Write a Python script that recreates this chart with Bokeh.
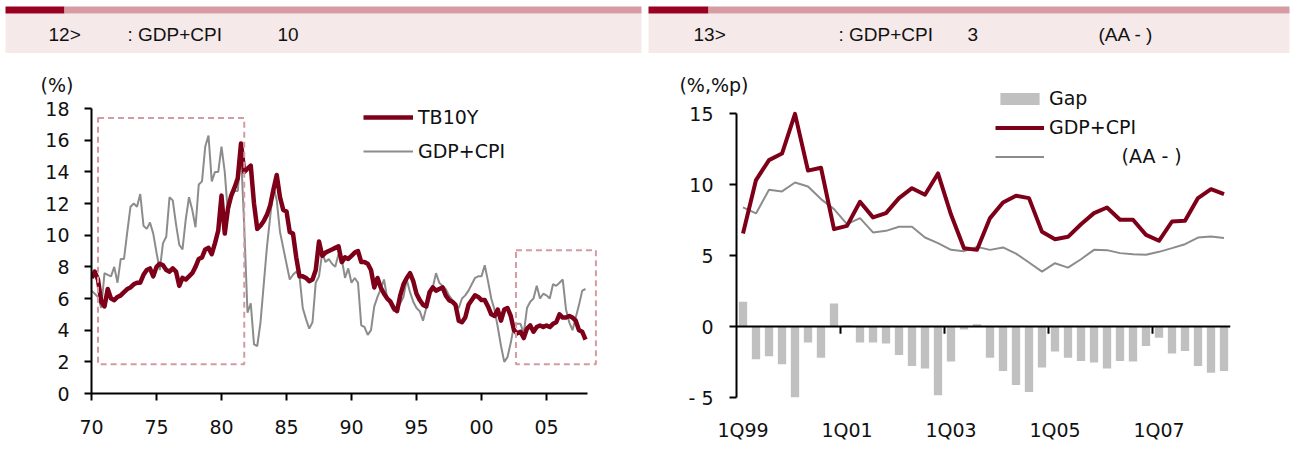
from bokeh.plotting import figure
from bokeh.models import Range1d, FixedTicker, Legend, LegendItem, BoxAnnotation, Span, LinearAxis
from bokeh.layouts import row, column
from bokeh.embed import file_html
from bokeh.resources import INLINE
from bokeh.core.properties import value

# ---------------- data: left chart (quarterly, 1970Q1 .. 2008Q1) ----------------
start_year = 1970
tb10y = [
    7.3, 7.7, 7.2, 5.8,   5.5, 6.6, 6.0, 5.9,   6.1, 6.2, 6.4, 6.6,   6.7, 6.9, 7.0, 7.0,
    7.5, 7.8, 7.9, 7.4,   8.0, 8.2, 8.1, 7.8,   7.7, 7.9, 7.7, 6.8,   7.3, 7.2, 7.4, 7.6,
    8.0, 8.5, 8.6, 9.1,   9.2, 8.8, 9.5, 10.3,  12.5, 10.1, 11.7, 12.5, 13.0, 13.6, 15.8, 14.0,
    14.2, 14.4, 12.0, 10.4, 10.6, 10.9, 11.3, 11.9, 12.9, 13.8, 12.4, 11.6, 11.5, 10.2, 10.1, 8.6,
    7.4, 7.4, 7.3, 7.1,   7.2, 7.8, 9.6, 8.7,   8.9, 9.0, 9.1, 9.2,   9.3, 8.3, 8.6, 8.5,
    8.7, 8.9, 9.0, 8.3,   8.3, 8.2, 7.8, 6.7,   7.3, 6.7, 6.3, 6.0,   5.8, 5.4, 5.2, 6.2,
    6.9, 7.3, 7.6, 7.1,   6.3, 5.9, 5.6, 5.5,   6.4, 6.7, 6.5, 6.6,   6.7, 6.2, 5.9, 5.8,
    5.6, 4.6, 4.5, 4.8,   5.6, 5.9, 6.2, 6.1,   5.9, 5.9, 5.5, 5.0,   4.9, 5.3, 4.6, 5.3,
    5.4, 4.9, 4.0, 3.8,   3.9, 3.5, 4.1, 4.3,   3.9, 4.2, 4.3, 4.2,   4.3, 4.2, 4.4, 4.5,
    5.0, 4.8, 4.8, 4.9,   4.8, 4.6, 4.0, 3.9,   3.4,
]
gdp_cpi = [
    6.5, 6.3, 6.1, 5.4,   7.6, 7.5, 7.4, 8.0,   7.0, 8.5, 8.5, 10.2,  11.8, 12.0, 11.8, 12.6,
    10.6, 10.4, 10.8, 10.1, 8.9, 7.8, 9.5, 9.9,  12.4, 12.2, 10.7, 9.4, 9.1, 11.0, 12.4, 11.6,
    10.5, 13.2, 13.4, 15.6, 16.3, 13.4, 14.0, 14.0, 15.6, 14.0, 11.3, 12.4, 12.8, 12.8, 15.2, 10.5,
    5.1, 5.7, 3.1, 3.0,   4.5, 6.9, 9.3, 11.2,  13.1, 12.2, 10.2, 9.2,  8.2, 7.2, 7.5, 7.7,
    7.4, 5.4, 4.7, 4.1,   4.5, 7.0, 7.4, 8.9,   8.3, 8.5, 8.2, 8.0,   8.8, 8.5, 7.3, 7.9,
    7.0, 7.3, 7.0, 4.3,   4.2, 3.7, 4.0, 5.5,   6.1, 6.6, 7.2, 6.0,   5.6, 5.2, 5.3, 5.7,
    6.1, 7.2, 6.4, 5.8,   5.4, 5.2, 4.6, 5.4,   6.0, 6.7, 7.6, 7.0,   6.8, 6.6, 6.2, 5.9,
    5.6, 5.4, 6.0, 6.2,   6.5, 6.9, 7.3, 7.4,   7.4, 8.1, 7.1, 6.0,   5.3, 4.2, 3.0, 2.0,
    2.3, 3.2, 4.3, 4.4,   4.4, 3.8, 5.4, 5.8,   6.0, 6.8, 6.0, 6.3,   6.2, 6.0, 6.9, 6.8,
    7.0, 7.2, 5.3, 4.5,   4.0, 4.8, 5.6, 6.5,   6.6,
]
quarter_x = [start_year + 0.25 * i for i in range(len(tb10y))]
left_ticks = [1970, 1975, 1980, 1985, 1990, 1995, 2000, 2005]
left_tick_labels = ["70", "75", "80", "85", "90", "95", "00", "05"]
left_yticks = [0, 2, 4, 6, 8, 10, 12, 14, 16, 18]
# highlighted periods (dashed boxes): (x from, x to, y low, y high)
highlights = [(1970.5, 1981.75, 1.85, 17.4), (2002.65, 2008.8, 1.85, 9.05)]

# ---------------- data: right chart (1Q99 .. 2Q08) ----------------
quarters = ["%dQ%02d" % (q, y % 100) for y in range(1999, 2009) for q in range(1, 5)][:38]
gdp_cpi_q = [6.56, 10.33, 11.74, 12.2, 15.0, 11.0, 11.2, 6.87, 7.1, 8.8, 7.7, 8.0, 9.06, 9.76,
             9.3, 10.8, 7.9, 5.53, 5.41, 7.65, 8.75, 9.22, 9.06, 6.68, 6.16, 6.33, 7.22, 8.0,
             8.4, 7.53, 7.53, 6.47, 6.05, 7.41, 7.46, 9.06, 9.69, 9.34]
aa_yield = [8.4, 7.98, 9.65, 9.53, 10.16, 9.88, 8.99, 8.28, 7.22, 7.65, 6.64, 6.75, 7.04, 7.04,
            6.28, 5.88, 5.41, 5.32, 5.62, 5.41, 5.58, 5.15, 4.52, 3.88, 4.47, 4.16, 4.75, 5.41,
            5.39, 5.18, 5.1, 5.06, 5.27, 5.53, 5.81, 6.28, 6.35, 6.24]
gap = [1.76, -2.3, -2.1, -2.66, -5.0, -1.13, -2.19, 1.62, 0.1, -1.13, -1.13, -1.2, -2.0, -2.78,
       -2.96, -4.85, -2.47, -0.2, 0.16, -2.19, -3.13, -4.12, -4.61, -2.89, -1.76, -2.19, -2.42,
       -2.54, -2.96, -2.42, -2.47, -1.36, -0.78, -1.9, -1.72, -2.78, -3.25, -3.13]
right_label_idx = [0, 8, 16, 24, 32]
right_yticks = [-5, 0, 5, 10, 15]

# ---------------- styles ----------------
DARK = "#7d0018"
GRAY = "#8c8c8c"
BAR = "#c0c0c0"
BOXC = "#d49aa4"
HDR_DARK = "#9a0020"
HDR_PINK = "#d59ca3"
HDR_BG = "#f5e9e9"
FONT = "DejaVu Sans"
HFONT = "Liberation Sans"
FS = "19px"

def header(x0, x1, bx0, bx1, dark_end, texts):
    h = figure(width=x1 - x0, height=53, x_range=Range1d(x0, x1), y_range=Range1d(53, 0),
               toolbar_location=None, output_backend="svg", min_border=0, frame_align=False,
               x_axis_location=None, y_axis_location=None)
    h.grid.visible = False
    h.outline_line_color = None
    h.quad(left=[bx0], right=[bx1], top=[13], bottom=[53], color=HDR_BG, line_color=None)
    h.quad(left=[bx0], right=[dark_end], top=[6], bottom=[13], color=HDR_DARK, line_color=None)
    h.quad(left=[dark_end], right=[bx1], top=[6], bottom=[13], color=HDR_PINK, line_color=None)
    h.text(x=[t[0] for t in texts], y=[34] * len(texts), text=[t[1] for t in texts],
           text_font=value(HFONT), text_font_size="19px", text_baseline="middle",
           text_color="#111111")
    return h

h1 = header(0, 644, 5, 641, 64, [(48, "12>"), (127, ": GDP+CPI"), (277, "10")])
h2 = header(644, 1292, 648, 1289, 708, [(693, "13>"), (838, ": GDP+CPI"), (967, "3"), (1098, "(AA - )")])

def style_axes(p):
    for ax in p.axis:
        ax.axis_line_color = "black"
        ax.axis_line_width = 2
        ax.major_tick_line_color = "black"
        ax.major_tick_line_width = 2
        ax.major_tick_in = 0
        ax.major_tick_out = 7
        ax.minor_tick_line_color = None
        ax.major_label_text_font = FONT
        ax.major_label_text_font_size = FS
        ax.major_label_text_color = "#111111"

def unit_axis(p, y_at, text, standoff):
    # unit text drawn as the only label of an extra, line-less left axis
    ax = LinearAxis(ticker=FixedTicker(ticks=[y_at]), major_label_overrides={y_at: text},
                    axis_line_color=None, major_tick_line_color=None, minor_tick_line_color=None,
                    major_tick_in=0, major_tick_out=0, minor_tick_in=0, minor_tick_out=0,
                    major_label_standoff=standoff, major_label_text_font=FONT,
                    major_label_text_font_size=FS, major_label_text_color="#111111")
    p.add_layout(ax, "left")

# ---------------- left chart ----------------
p1 = figure(width=644, height=422, x_range=Range1d(1970, 2009), y_range=Range1d(0, 19.52),
            toolbar_location=None, output_backend="svg", frame_align=False,
            min_border_left=91, min_border_right=46, min_border_top=31, min_border_bottom=82)
p1.grid.visible = False
p1.outline_line_color = None
style_axes(p1)
p1.xaxis.ticker = FixedTicker(ticks=left_ticks)
p1.xaxis.major_label_overrides = dict(zip(left_ticks, left_tick_labels))
p1.xaxis.bounds = (1970, 2008.15)
p1.xaxis.major_label_standoff = 19
p1.yaxis.ticker = FixedTicker(ticks=left_yticks)
p1.yaxis.bounds = (0, 18)
p1.yaxis.major_label_standoff = 15
unit_axis(p1, 19.5, "(%)", -31)

for (xa, xb, ya, yb) in highlights:
    p1.add_layout(BoxAnnotation(left=xa, right=xb, bottom=ya, top=yb, fill_alpha=0,
                                line_color=BOXC, line_alpha=1.0, line_width=2, line_dash="6 4"))

r_g = p1.line(quarter_x, gdp_cpi, line_color=GRAY, line_width=2)
r_t = p1.line(quarter_x, tb10y, line_color=DARK, line_width=4.5, line_join="round")

leg1 = Legend(items=[LegendItem(label="TB10Y", renderers=[r_t]),
                     LegendItem(label="GDP+CPI", renderers=[r_g])],
              location=(272, 230), orientation="vertical", glyph_width=50, glyph_height=20,
              label_height=24, spacing=10, padding=0, margin=0, label_standoff=5,
              border_line_color=None, background_fill_alpha=0,
              label_text_font=FONT, label_text_font_size=FS, label_text_color="#111111")
p1.add_layout(leg1)

# ---------------- right chart ----------------
n = len(gap)
xs = list(range(n))
p2 = figure(width=648, height=422, x_range=Range1d(-0.5, n - 0.5), y_range=Range1d(-5, 17.07),
            toolbar_location=None, output_backend="svg", frame_align=False,
            min_border_left=92, min_border_right=62, min_border_top=31, min_border_bottom=78)
p2.grid.visible = False
p2.outline_line_color = None
style_axes(p2)
minor = [i - 0.5 for i in right_label_idx[1:]]
p2.xaxis.ticker = FixedTicker(ticks=right_label_idx, minor_ticks=minor)
p2.xaxis.major_label_overrides = {i: quarters[i] for i in right_label_idx}
p2.xaxis.axis_line_color = None
p2.xaxis.major_tick_line_color = None
p2.xaxis.major_tick_out = 0
p2.xaxis.minor_tick_out = 0
p2.xaxis.major_label_standoff = 21
p2.yaxis.ticker = FixedTicker(ticks=right_yticks)
p2.yaxis.major_label_overrides = {-5: "- 5"}
p2.yaxis.bounds = (-5, 15)
p2.yaxis.major_label_standoff = 16
unit_axis(p2, 17.0, "(%,%p)", -63)

r_bar = p2.vbar(x=xs, top=gap, bottom=0, width=0.64, fill_color=BAR, line_color=None)
p2.add_layout(Span(location=0, dimension="width", line_color="black", line_width=2))
p2.segment(x0=minor, y0=[0] * len(minor), x1=minor, y1=[-0.5] * len(minor),
           line_color="black", line_width=2)
r_aa = p2.line(xs, aa_yield, line_color=GRAY, line_width=2)
r_gc = p2.line(xs, gdp_cpi_q, line_color=DARK, line_width=4, line_join="round")

leg2 = Legend(items=[LegendItem(label="Gap", renderers=[r_bar]),
                     LegendItem(label="GDP+CPI", renderers=[r_gc]),
                     LegendItem(label="\u00a0" * 12 + "(AA - )", renderers=[r_aa])],
              location=(259, 229), orientation="vertical", glyph_width=49, glyph_height=15,
              label_height=24, spacing=5, padding=0, margin=0, label_standoff=5,
              border_line_color=None, background_fill_alpha=0,
              label_text_font=FONT, label_text_font_size=FS, label_text_color="#111111")
p2.add_layout(leg2)

layout = row(column(h1, p1), column(h2, p2))
open("out.html", "w").write(file_html(layout, INLINE))
